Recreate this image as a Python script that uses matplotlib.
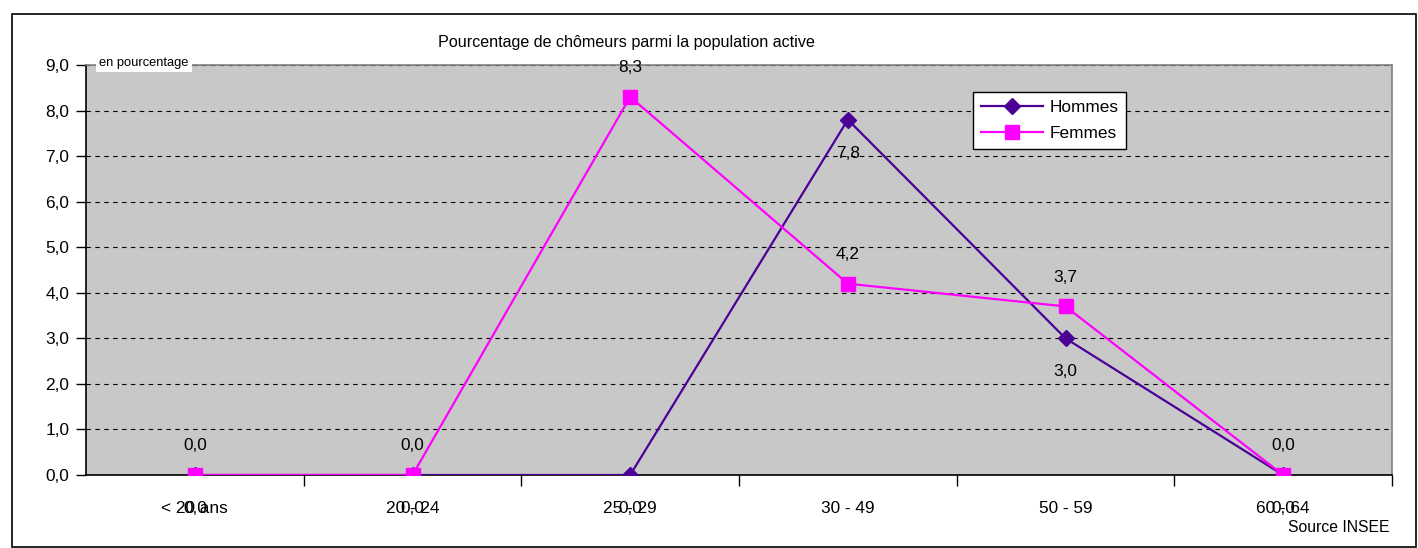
import matplotlib
matplotlib.use("Agg")
import matplotlib.pyplot as plt
from matplotlib.patches import Rectangle
from matplotlib.ticker import FuncFormatter, FixedLocator

categories = ["< 20 ans", "20 - 24", "25 - 29", "30 - 49", "50 - 59", "60 - 64"]
hommes = [0.0, 0.0, 0.0, 7.8, 3.0, 0.0]
femmes = [0.0, 0.0, 8.3, 4.2, 3.7, 0.0]

plt.rcParams['font.family'] = ['Liberation Sans', 'DejaVu Sans']
LS = 12.4

W, H = 1418, 548
fig = plt.figure(figsize=(W / 100, H / 100), dpi=100)
ax = fig.add_axes([86 / W, 1 - 475 / H, (1392 - 86) / W, (475 - 65) / H])
ax.set_facecolor('#C8C8C8')

x = list(range(len(categories)))
c_h = '#4B0096'
c_f = '#FF00FF'
ax.plot(x, hommes, color=c_h, lw=1.6, marker='D', ms=8, mec=c_h, mfc=c_h, label='Hommes', zorder=3)
ax.plot(x, femmes, color=c_f, lw=1.6, marker='s', ms=10, mec=c_f, mfc=c_f, label='Femmes', zorder=4)

fmt = lambda v: f"{v:.1f}".replace('.', ',')
for xi, v in zip(x, hommes):
    ax.annotate(fmt(v), (xi, v), xytext=(0, -24), textcoords='offset points',
                ha='center', va='center', fontsize=LS, zorder=5, annotation_clip=False)
for xi, v in zip(x, femmes):
    ax.annotate(fmt(v), (xi, v), xytext=(0, 21), textcoords='offset points',
                ha='center', va='center', fontsize=LS, zorder=5, annotation_clip=False)

ax.set_xlim(-0.5, len(categories) - 0.5)
ax.set_ylim(0, 9)
ax.yaxis.set_major_locator(FixedLocator([i for i in range(10)]))
ax.yaxis.set_major_formatter(FuncFormatter(lambda v, p: fmt(v)))
ax.set_xticks(x)
ax.set_xticklabels(categories, fontsize=LS)
for t in ax.get_yticklabels():
    t.set_fontsize(LS)
ax.set_xticks([i + 0.5 for i in range(len(categories))], minor=True)
ax.tick_params(axis='x', which='major', length=0, pad=19)
ax.tick_params(axis='x', which='minor', length=8, width=1, direction='out', color='black')
ax.tick_params(axis='y', length=7, width=1, direction='out', pad=5)

ax.grid(axis='y', which='major', color='black', linestyle=(0, (4, 4)), lw=0.8, zorder=1)
ax.set_axisbelow(True)
for s in ['top', 'right']:
    ax.spines[s].set_color('#808080')
    ax.spines[s].set_linewidth(1.2)
for s in ['left', 'bottom']:
    ax.spines[s].set_color('black')
    ax.spines[s].set_linewidth(1.2)

leg = ax.legend(loc='upper left', bbox_to_anchor=((973 - 86) / 1306, (475 - 92) / 410),
                prop={'size': LS}, frameon=True, fancybox=False,
                framealpha=1, edgecolor='black', handlelength=3.6, borderpad=0.45,
                labelspacing=0.65, borderaxespad=0, handletextpad=0.4)
leg.get_frame().set_linewidth(1.0)

fig.text(626 / W, 1 - 43 / H, "Pourcentage de chômeurs parmi la population active",
         ha='center', va='center', fontsize=11.6)
fig.text(144 / W, 1 - 63 / H, "en pourcentage", ha='center', va='center', fontsize=9.3,
         bbox=dict(facecolor='white', edgecolor='none', pad=2.5), zorder=10)
fig.text(1390 / W, 1 - 528 / H, "Source INSEE", ha='right', va='center', fontsize=11.3)

fig.patches.append(Rectangle((12 / W, 1 / H), (1416 - 12) / W, (547 - 14) / H,
                             transform=fig.transFigure, fill=False, edgecolor='black', lw=1.2))

fig.savefig('out.png', dpi=100, facecolor='white')
